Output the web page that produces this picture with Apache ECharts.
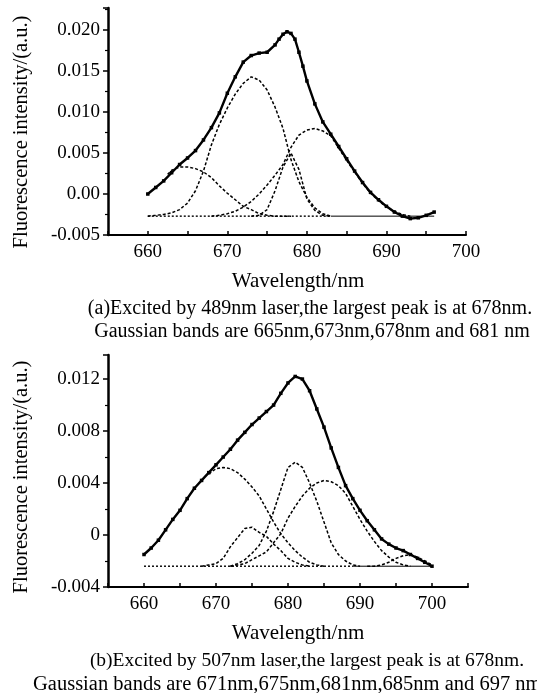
<!DOCTYPE html>
<html><head><meta charset="utf-8">
<script src="https://cdn.jsdelivr.net/npm/echarts@6/dist/echarts.min.js"></script>
<style>html,body{margin:0;padding:0;background:#fff}#c{width:537px;height:693px}</style>
</head><body><div id="c"></div>
<script>
const FONT = '"Liberation Serif","Times New Roman",serif';

// ---------- Panel (a) ----------
const xTicksA = [660, 670, 680, 690, 700];
const yTicksA = [-0.005, 0, 0.005, 0.010, 0.015, 0.020];
const yLabelsA = ['-0.005', '0.00', '0.005', '0.010', '0.015', '0.020'];
const mainA = [[660,0.0000],[661,0.0008],[662,0.0016],[663,0.0026],[664,0.0036],[665,0.0044],[666,0.0053],[667,0.0066],[668,0.0081],[669,0.0099],[670,0.0123],[671,0.0143],[672,0.0161],[673,0.0169],[674,0.0172],[675,0.0173],[676,0.0182],[676.5,0.0189],[677,0.0195],[677.5,0.0198],[678,0.0196],[678.5,0.0189],[679,0.0173],[679.5,0.0156],[680,0.0138],[681,0.0110],[682,0.0088],[683,0.0073],[684,0.0058],[685,0.0043],[686,0.0028],[687,0.0014],[688,0.0002],[689,-0.0007],[690,-0.0015],[691,-0.0022],[692,-0.0027],[693,-0.0030],[694,-0.0029],[695,-0.0026],[696,-0.0022]];
const g665A = [[662.5,0.0024],[663,0.0029],[664,0.0033],[665,0.0033],[666,0.0031],[667,0.0027],[668,0.0020],[669,0.0010],[670,0.0001],[671,-0.0007],[672,-0.0015],[673,-0.0019],[674,-0.0024],[675,-0.0026],[676,-0.0027],[678,-0.0027]];
const g673A = [[660,-0.0027],[661,-0.0026],[662,-0.0025],[663,-0.0023],[664,-0.0019],[665,-0.0011],[666,0.0004],[667,0.0028],[668,0.0060],[669,0.0085],[670,0.0105],[671,0.0122],[672,0.0135],[673,0.0143],[674,0.0139],[675,0.0127],[676,0.0106],[677,0.0080],[678,0.0042],[679,0.0015],[680,-0.0004],[681,-0.0017],[682,-0.0024],[683,-0.0027]];
const g678A = [[673,-0.0027],[674,-0.0026],[675,-0.0019],[676,0.0004],[677,0.0033],[678,0.0050],[679,0.0030],[680,-0.0006],[681,-0.0020],[682,-0.0026],[683,-0.0027]];
const g681A = [[668,-0.0027],[669,-0.0026],[670,-0.0024],[671,-0.0021],[672,-0.0016],[673,-0.0009],[674,0.0000],[675,0.0011],[676,0.0023],[677,0.0036],[678,0.0057],[679,0.0072],[680,0.0078],[681,0.0080],[682,0.0077],[683,0.0071],[684,0.0056],[685,0.0041],[686,0.0027],[687,0.0013],[688,0.0001],[689,-0.0008],[690,-0.0016],[691,-0.0021],[692,-0.0025],[693,-0.0027]];
const baseDashA = [[660,-0.0027],[683,-0.0027]];
const baseSolidA = [[683,-0.0027],[696,-0.0027]];

// ---------- Panel (b) ----------
const xTicksB = [660, 670, 680, 690, 700];
const yTicksB = [-0.004, 0, 0.004, 0.008, 0.012];
const yLabelsB = ['-0.004', '0', '0.004', '0.008', '0.012'];
const mainB = [[660,-0.0015],[661,-0.0010],[662,-0.0004],[663,0.0004],[664,0.0012],[665,0.0019],[666,0.0028],[667,0.0036],[668,0.0042],[669,0.0048],[670,0.0054],[671,0.0060],[672,0.0066],[673,0.0073],[674,0.0079],[675,0.0085],[676,0.0090],[677,0.0095],[678,0.0100],[679,0.0109],[680,0.0117],[681,0.0122],[682,0.0120],[683,0.0111],[684,0.0097],[685,0.0083],[686,0.0067],[687,0.0052],[688,0.0038],[689,0.0028],[690,0.0019],[691,0.0011],[692,0.0004],[693,-0.0003],[694,-0.0007],[695,-0.0010],[696,-0.0012],[697,-0.0015],[698,-0.0018],[699,-0.0021],[700,-0.0024]];
const g671B = [[669,0.0047],[670,0.0051],[671,0.0052],[672,0.0051],[673,0.0048],[674,0.0043],[675,0.0037],[676,0.0030],[677,0.0020],[678,0.0010],[679,0.0001],[680,-0.0006],[681,-0.0012],[682,-0.0017],[683,-0.0021],[684,-0.0023],[685,-0.0024]];
const g675B = [[668,-0.0024],[669,-0.0023],[670,-0.0022],[671,-0.0018],[672,-0.0009],[673,-0.0002],[674,0.0005],[675,0.0006],[676,0.0002],[677,-0.0001],[678,-0.0007],[679,-0.0012],[680,-0.0018],[681,-0.0021],[682,-0.0023],[683,-0.0024]];
const g681B = [[672,-0.0024],[673,-0.0022],[674,-0.0019],[675,-0.0014],[676,-0.0008],[677,0.0003],[678,0.0018],[679,0.0035],[680,0.0052],[681,0.0056],[682,0.0052],[683,0.0040],[684,0.0026],[685,0.0010],[686,-0.0006],[687,-0.0015],[688,-0.0020],[689,-0.0023],[690,-0.0024]];
const g685B = [[672,-0.0024],[673,-0.0023],[674,-0.0022],[675,-0.0019],[676,-0.0016],[677,-0.0013],[678,-0.0006],[679,0.0001],[680,0.0013],[681,0.0022],[682,0.0030],[683,0.0036],[684,0.0040],[685,0.0042],[686,0.0041],[687,0.0038],[688,0.0032],[689,0.0022],[690,0.0012],[691,0.0003],[692,-0.0005],[693,-0.0012],[694,-0.0017],[695,-0.0021],[696,-0.0023],[697,-0.0024]];
const g697B = [[691,-0.0024],[692,-0.0024],[693,-0.0023],[694,-0.0021],[695,-0.0018],[696,-0.0016],[697,-0.0015],[698,-0.0017],[699,-0.0020],[700,-0.0023]];
const baseDashB = [[660,-0.0024],[689,-0.0024]];
const baseSolidB = [[689,-0.0024],[700,-0.0024]];

// ---------- Texts ----------
const yName = 'Fluorescence intensity/(a.u.)';
const xName = 'Wavelength/nm';
const captionA1 = '(a)Excited by 489nm laser,the largest peak is at 678nm.';
const captionA2 = 'Gaussian bands are 665nm,673nm,678nm and 681 nm';
const captionB1 = '(b)Excited by 507nm laser,the largest peak is at 678nm.';
const captionB2 = 'Gaussian bands are 671nm,675nm,681nm,685nm and 697 nm';

function tickFormatter(vals, labels) {
  return function (v) {
    for (let i = 0; i < vals.length; i++) {
      if (Math.abs(v - vals[i]) < 1e-7) return labels[i];
    }
    return '';
  };
}

function xAxis(gi, min, max, ticks) {
  return {
    type: 'value', gridIndex: gi, min: min, max: max, interval: 5,
    axisLine: { show: true, onZero: false, lineStyle: { color: '#000', width: 2 } },
    axisTick: { show: true, inside: true, length: 4, lineStyle: { color: '#000', width: 1.5 } },
    splitLine: { show: false },
    axisLabel: { margin: 8, color: '#000', fontFamily: FONT, fontSize: 19,
      formatter: tickFormatter(ticks, ticks.map(String)) }
  };
}
function yAxis(gi, min, max, interval, ticks, labels) {
  return {
    type: 'value', gridIndex: gi, min: min, max: max, interval: interval,
    axisLine: { show: true, onZero: false, lineStyle: { color: '#000', width: 2.5 } },
    axisTick: { show: true, inside: false, length: 5, lineStyle: { color: '#000', width: 1.5 } },
    minorTick: { show: true, splitNumber: 2, length: 3, lineStyle: { color: '#000', width: 1.2 } },
    splitLine: { show: false },
    axisLabel: { margin: 8, color: '#000', fontFamily: FONT, fontSize: 19,
      formatter: tickFormatter(ticks, labels) }
  };
}

function mainSeries(ax, data) {
  return { type: 'line', xAxisIndex: ax, yAxisIndex: ax, data: data, symbol: 'rect', symbolSize: 3.5,
    showSymbol: true, itemStyle: { color: '#000' }, lineStyle: { color: '#000', width: 2.4 }, z: 5, silent: true };
}
function gaussSeries(ax, data) {
  return { type: 'line', xAxisIndex: ax, yAxisIndex: ax, data: data, symbol: 'none',
    lineStyle: { color: '#000', width: 1.5, type: [3, 2] }, z: 3, silent: true };
}
function baseSeries(ax, data, solid) {
  return { type: 'line', xAxisIndex: ax, yAxisIndex: ax, data: data, symbol: 'none',
    lineStyle: { color: '#000', width: solid ? 1 : 1.4, type: solid ? 'solid' : [2, 2] }, z: 2, silent: true };
}

function txt(x, y, s, size, rot, align) {
  return { type: 'text', x: x, y: y, rotation: rot || 0,
    style: { text: s, x: 0, y: 0, fill: '#000', font: size + 'px ' + FONT,
      textAlign: align || 'center', textVerticalAlign: 'middle' } };
}

const chart = echarts.init(document.getElementById('c'), null, { renderer: 'canvas', width: 537, height: 693 });
chart.setOption({
  animation: false,
  backgroundColor: '#fff',
  grid: [
    { left: 108, top: 8, width: 358, height: 227 },
    { left: 108, top: 355, width: 360, height: 232 }
  ],
  xAxis: [ xAxis(0, 655, 700, xTicksA), xAxis(1, 655, 705, xTicksB) ],
  yAxis: [ yAxis(0, -0.005, 0.0227, 0.005, yTicksA, yLabelsA), yAxis(1, -0.004, 0.01385, 0.004, yTicksB, yLabelsB) ],
  series: [
    baseSeries(0, baseDashA, false), baseSeries(0, baseSolidA, true),
    gaussSeries(0, g665A), gaussSeries(0, g673A), gaussSeries(0, g678A), gaussSeries(0, g681A),
    mainSeries(0, mainA),
    baseSeries(1, baseDashB, false), baseSeries(1, baseSolidB, true),
    gaussSeries(1, g671B), gaussSeries(1, g675B), gaussSeries(1, g681B), gaussSeries(1, g685B), gaussSeries(1, g697B),
    mainSeries(1, mainB)
  ],
  graphic: [
    txt(22, 132, yName, 20.5, Math.PI / 2),
    txt(298, 281, xName, 21),
    txt(310, 309, captionA1, 20),
    txt(312, 332, captionA2, 20),
    txt(22, 477, yName, 20.5, Math.PI / 2),
    txt(298, 633, xName, 21),
    txt(307, 661, captionB1, 19.5),
    txt(33, 685, captionB2, 20.5, 0, 'left')
  ]
});
</script></body></html>
